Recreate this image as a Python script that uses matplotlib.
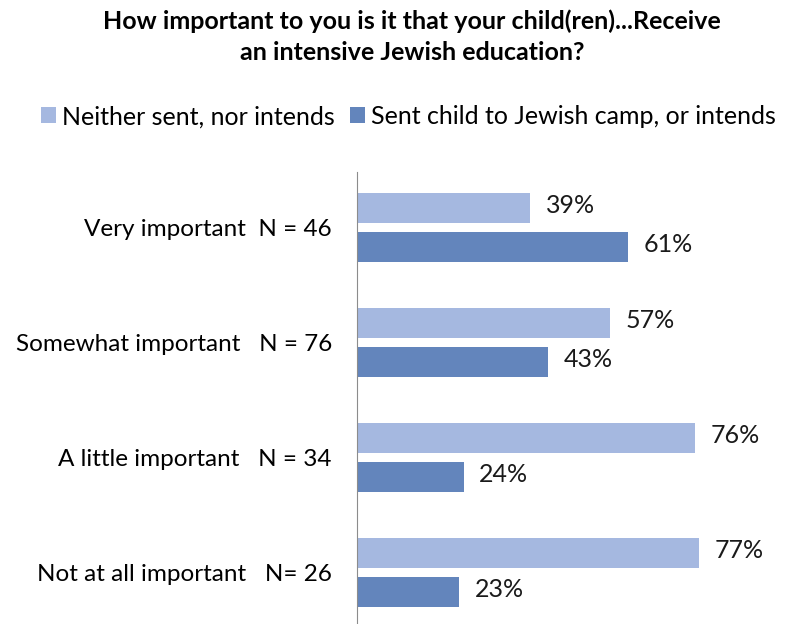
import matplotlib.pyplot as plt
import numpy as np

plt.rcParams['font.family'] = ['Lato', 'DejaVu Sans']

categories = ['Very important  N = 46', 'Somewhat important   N = 76',
              'A little important   N = 34', 'Not at all important   N= 26']
neither = [39, 57, 76, 77]
sent_camp = [61, 43, 24, 23]
series_names = ['Neither sent, nor intends', 'Sent child to Jewish camp, or intends']
colors = ['#A5B8E0', '#6385BC']

fig = plt.figure(figsize=(7.88, 6.24), dpi=100)
ax = fig.add_axes([357 / 788, 0.0, 1 - 357 / 788, 1 - 172 / 624])

y = np.arange(len(categories))
h = 0.26
off = 0.17
b1 = ax.barh(y - off, neither, height=h, color=colors[0], label=series_names[0])
b2 = ax.barh(y + off, sent_camp, height=h, color=colors[1], label=series_names[1])

for bars, vals in [(b1, neither), (b2, sent_camp)]:
    for rect, v in zip(bars, vals):
        ax.text(v + 3.5, rect.get_y() + rect.get_height() / 2 - 0.02, '%d%%' % v,
                ha='left', va='center', fontsize=18, color='#1a1a1a')

ax.set_xlim(0, 97)
ax.set_ylim(3.45, -0.48)
ax.set_yticks(y)
ax.set_yticklabels(categories, fontsize=17.5)
ax.tick_params(axis='y', length=0, pad=18)
ax.set_xticks([])
for s in ['top', 'right', 'bottom']:
    ax.spines[s].set_visible(False)
ax.spines['left'].set_color('#8c8c8c')

fig.text(0.523, 0.985, 'How important to you is it that your child(ren)...Receive\nan intensive Jewish education?',
         ha='center', va='top', fontsize=18, fontweight='bold', linespacing=1.45)

fig.legend(loc='center', bbox_to_anchor=(0.518, 0.813), ncol=2, frameon=False,
           fontsize=18, handlelength=0.6, handleheight=0.6, handletextpad=0.25,
           columnspacing=0.6)

fig.savefig('out.png', dpi=100)
